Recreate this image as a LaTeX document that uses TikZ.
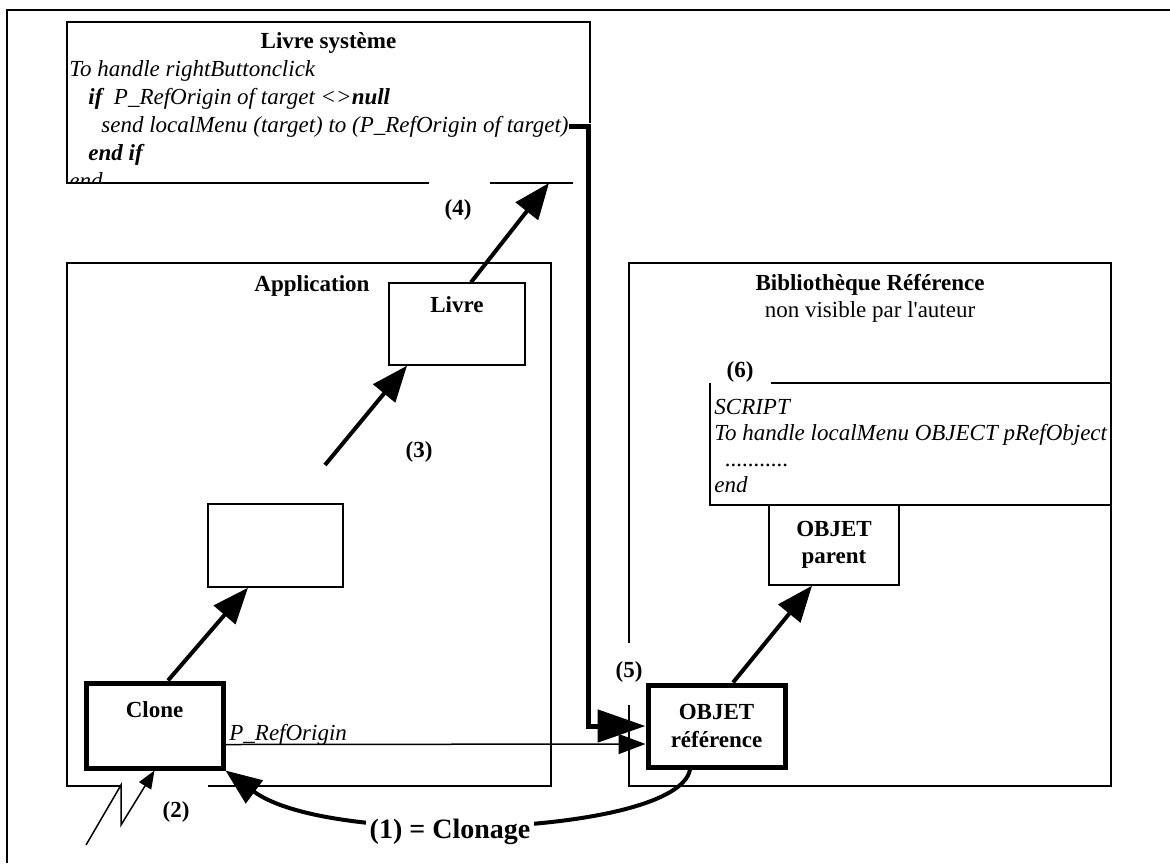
\documentclass[tikz,border=0pt]{standalone}
\usepackage{fontspec}
\setmainfont{Liberation Serif}[Ligatures=TeXOff]
\usetikzlibrary{arrows.meta}

\begin{document}
\begin{tikzpicture}[x=0.5pt, y=-0.5pt,
		every node/.style={font=\fontsize{11.5}{13.75}\selectfont, inner sep=0pt},
		boxline/.style={line width=0.7pt},
		objbox/.style={draw, line width=0.7pt},
		refbox/.style={draw, line width=2.5pt},
		bigarrow/.style={line width=2pt, -{Triangle[length=18pt,width=14pt]}},
		codeln/.style={anchor=base west, font=\fontsize{11.5}{13.75}\selectfont\itshape},
		num/.style={font=\fontsize{11.5}{13.75}\selectfont\bfseries}]
		\useasboundingbox (0,0) rectangle (1170,863);
		\draw[line width=1.2pt] (7,863) -- (7,10) -- (1170,10);
		
		% Livre systeme
		\draw[boxline] (429,183) -- (67,183) -- (67,22) -- (590,22) -- (590,123);
		\draw[boxline] (490,183) -- (573,183);
		\begin{scope}
			\clip (67,22) rectangle (590,183);
			\node[num] (systitle) at (328.5,43) {Livre système};
			\node[codeln] (ln1) at (69,76) {To handle rightButtonclick};
			\node[codeln] (ln2) at (88,104) {\textbf{if}\ \ P\_RefOrigin of target <>\textbf{null}};
			\node[codeln] (sendln) at (101,132) {send localMenu (target) to (P\_RefOrigin of target)};
			\node[codeln] (ln4) at (88,160) {\textbf{end if}};
			\node[codeln] (ln5) at (69,188) {end};
		\end{scope}
		
		% Application
		\draw[boxline] (121,786) -- (67,786) -- (67,263) -- (551,263) -- (551,786) -- (208,786);
		\node[num] (apptitle) at (312,286) {Application};
		\node[objbox, minimum width=68pt, minimum height=41pt] (livre) at (457,324) {};
		\node[num] (livrelbl) at (457,305) {Livre};
		\node[objbox, minimum width=67.5pt, minimum height=41.5pt] (mid) at (275.5,545.5) {};
		\node[refbox, minimum width=68.5pt, minimum height=42.5pt] (clone) at (154.5,725.5) {};
		\node[num] (clonelbl) at (154.5,710) {Clone};
		
		% Bibliotheque Reference
		\draw[boxline] (629,705) -- (629,786) -- (1111,786) -- (1111,263) -- (629,263) -- (629,643);
		\node[num] (bibtitle) at (870,285) {Bibliothèque Référence};
		\node (bibsub) at (870,312) {non visible par l'auteur};
		\draw[boxline] (771,383) -- (1111,383);
		\draw[boxline] (710,383) -- (710,505) -- (1111,505);
		\node[num] (n6) at (740,372) {(6)};
		\node[codeln] (sc1) at (714,414) {SCRIPT};
		\node[codeln] (sc2) at (714,440) {To handle localMenu OBJECT pRefObject};
		\node[codeln] (sc3) at (714,466) {\hspace*{5.5pt}...........};
		\node[codeln] (sc4) at (714,492) {end};
		\node[objbox, minimum width=65pt, minimum height=40pt, align=center, num] (objpar) at (834,545) {OBJET\\parent};
		\node[refbox, minimum width=68.5pt, minimum height=41pt, align=center, num] (objref) at (716.5,726) {OBJET\\référence};
		\node[num] (n5) at (629,672) {(5)};
		
		% connectors
		\draw[bigarrow] ([xshift=6.75pt]clone.north) -- ([xshift=-13.75pt]mid.south);
		\coordinate (a3) at (325,465);
		\draw[bigarrow] (a3) -- ([xshift=-25pt]livre.south);
		\node[num] (n3) at (419,452) {(3)};
		\coordinate (a4) at (549,183);
		\draw[bigarrow] ([xshift=7pt]livre.north) -- (a4);
		\node[num] (n4) at (458,210) {(4)};
		\draw[bigarrow] ([xshift=8.25pt]objref.north) -- ([xshift=-11pt]objpar.south);
		\draw[line width=2.5pt, -{Triangle[length=24pt,width=16pt]}] (sendln.east) -- ++(20,0) |- (objref.west);
		\draw[line width=0.75pt, -{Triangle[length=13.5pt,width=10pt]}] ([yshift=-9.5pt]clone.east) -- ([yshift=-9pt]objref.west);
		\node[anchor=base west, font=\fontsize{11.5}{13.75}\selectfont\itshape] (reflbl) at (229,740) {P\_RefOrigin};
		
		\draw[bigarrow] ([xshift=-13.25pt]objref.south) .. controls (678,835) and (330,848) .. (clone.south east);
		\node[fill=white, inner sep=2pt, font=\fontsize{14}{17}\selectfont\bfseries] (clonage) at (450,832) {(1) = Clonage};
		
		\coordinate (lt0) at (86,845);
		\draw[line width=0.75pt, -{Triangle[length=9pt,width=7pt]}] (lt0) -- (121,785) -- (121,825) -- (clone.south);
		\node[num] (n2) at (176,812) {(2)};
	\end{tikzpicture}
\end{document}
